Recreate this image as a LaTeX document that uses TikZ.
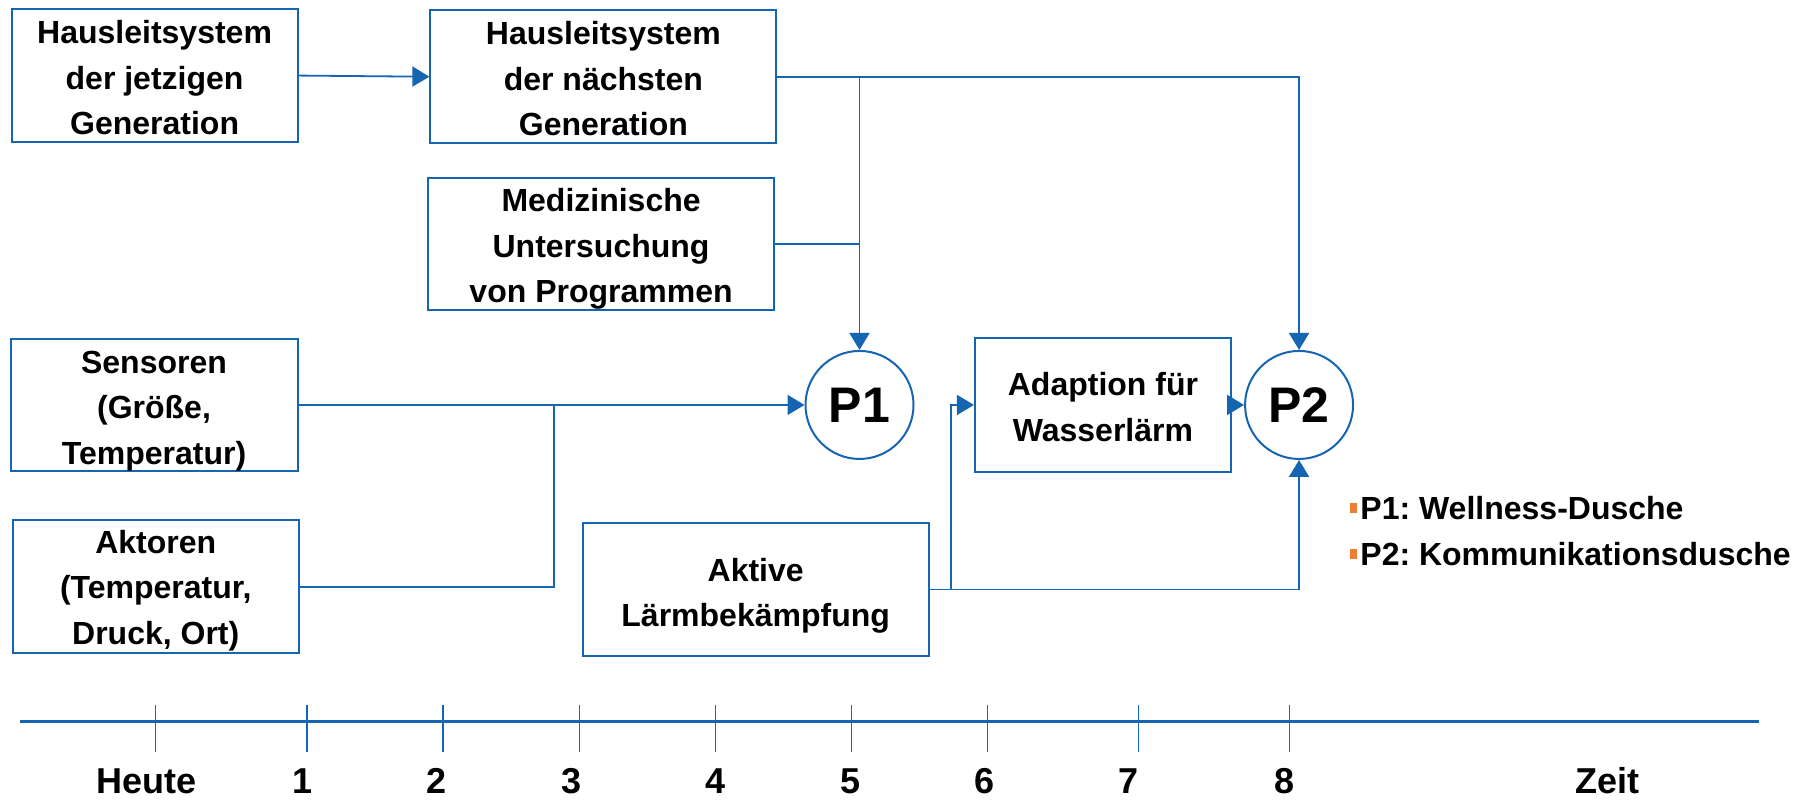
\documentclass[tikz,border=0pt]{standalone}
\usepackage{fontspec}
\setmainfont{Liberation Sans}
\usetikzlibrary{arrows.meta}
\definecolor{lineblue}{RGB}{21,101,178}
\definecolor{bulletorange}{RGB}{240,125,50}
\frenchspacing
\begin{document}
\begin{tikzpicture}[x=1.1537pt,y=-1.1537pt,
  box/.style={draw=lineblue, line width=2pt, fill=white, inner sep=0pt},
  boxtext/.style={align=center, inner sep=0pt, font=\fontsize{32}{45.5}\selectfont\bfseries},
  goal/.style={draw=lineblue, line width=2pt, fill=white, circle, inner sep=0pt,
    minimum size=108pt, font=\fontsize{50}{50}\selectfont\bfseries},
  link/.style={draw=lineblue, line width=1.8pt},
  flow/.style={link, -{Triangle[length=17pt,width=20pt]}},
  legend/.style={anchor=west, inner sep=0pt, font=\fontsize{32}{32}\selectfont\bfseries},
  bullet/.style={fill=bulletorange, inner sep=0pt, minimum width=7pt, minimum height=10pt},
  tick/.style={draw=lineblue, line width=1.3pt},
  ticklabel/.style={inner sep=0pt, font=\fontsize{36}{36}\selectfont\bfseries}]
  \useasboundingbox (0,0) rectangle (1568,693);

  % building blocks (frame first, then its centred text)
  \node[box, minimum width=286pt, minimum height=132.7pt] (A) at (134,65.5) {};
  \node[boxtext] (At) at ([yshift=-2pt]A.center) {Hausleitsystem\\der jetzigen\\Generation};
  \node[box, minimum width=346pt, minimum height=132.7pt] (B) at (523,66.5) {};
  \node[boxtext] (Bt) at ([yshift=-2pt]B.center) {Hausleitsystem\\der nächsten\\Generation};
  \node[box, minimum width=346pt, minimum height=132.7pt] (C) at (521,211.5) {};
  \node[boxtext] (Ct) at ([yshift=-5pt]C.center) {Medizinische\\Untersuchung\\von Programmen};
  \node[box, minimum width=287pt, minimum height=132.7pt] (D) at (133.5,351) {};
  \node[boxtext] (Dt) at ([yshift=-6pt]D.center) {Sensoren\\(Größe,\\Temperatur)};
  \node[box, minimum width=286pt, minimum height=132.7pt] (E) at (135,508.5) {};
  \node[boxtext] (Et) at ([yshift=-4pt]E.center) {Aktoren\\(Temperatur,\\Druck, Ort)};
  \node[box, minimum width=346pt, minimum height=133.8pt] (F) at (655,511) {};
  \node[boxtext] (Ft) at ([yshift=-6pt]F.center) {Aktive\\Lärmbekämpfung};
  \node[box, minimum width=256pt, minimum height=133.8pt] (G) at (956,351) {};
  \node[boxtext] (Gt) at ([yshift=-2pt]G.center) {Adaption für\\Wasserlärm};

  % products
  \node[goal] (P1) at (745,351) {P1};
  \node[goal] (P2) at (1126,351) {P2};

  % junction points
  \coordinate (jB) at (P1.north |- B.east);
  \coordinate (jD) at (480,351);
  \coordinate (jF) at (824,511);

  % connectors
  \draw[flow] (A.east) -- (B.west);
  \draw[flow] (B.east) -| (P2.north);
  \draw[flow] (jB) -- (P1.north);
  \draw[link] (C.east) -- (C.east -| jB);
  \draw[flow] (D.east) -- (P1.west);
  \draw[link] (E.east) -| (jD);
  \draw[flow] (F.east) -| (P2.south);
  \draw[flow] (jF) |- (G.west);
  \draw[flow] (G.east) -- (P2.west);

  % legend
  \node[bullet] (b1) at (1173,440) {};
  \node[legend] (l1) at (1179,440) {P1: Wellness-Dusche};
  \node[bullet] (b2) at (1173,480) {};
  \node[legend] (l2) at (1179,480) {P2: Kommunikationsdusche};

  % time axis
  \draw[draw=lineblue, line width=3pt] (17,625) -- (1525,625);
  \foreach \x in {135,266,384,502,620,738,856,987,1118}
    \draw[tick] (\x,611) -- (\x,652);
  \foreach \x/\t [count=\i] in {127/Heute,262/1,378/2,495/3,620/4,737/5,853/6,978/7,1113/8,1393/Zeit}
    \node[ticklabel] (t\i) at (\x,677) {\t};
\end{tikzpicture}
\end{document}
